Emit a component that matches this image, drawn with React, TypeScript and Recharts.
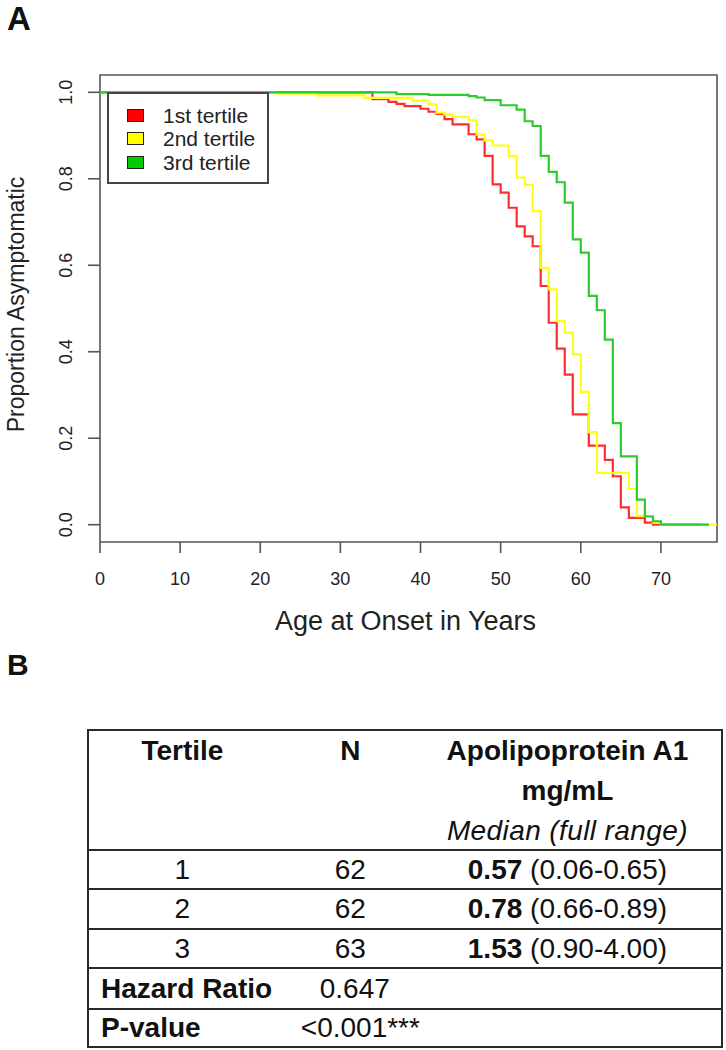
import React from 'react';
import { LineChart, Line, XAxis, YAxis, ReferenceArea, Legend } from 'recharts';

const FONT = '"Liberation Sans", Arial, Helvetica, sans-serif';

// ---- Panel A data: Kaplan–Meier steps (age at onset, proportion asymptomatic)
const tertile1Ages = [0, 34, 36, 37, 38, 40, 41, 42, 43, 44, 46, 47, 48, 49, 50, 51, 52, 53, 54, 55, 56, 57, 58, 59, 61, 63, 64, 65, 66, 68, 69, 75];
const tertile1Surv = [1, 0.984, 0.978, 0.973, 0.968, 0.962, 0.955, 0.95, 0.938, 0.926, 0.903, 0.891, 0.853, 0.787, 0.768, 0.733, 0.69, 0.667, 0.644, 0.552, 0.467, 0.407, 0.347, 0.255, 0.183, 0.15, 0.112, 0.04, 0.016, 0.005, 0, 0];

const tertile2Ages = [0, 22, 27, 33, 39, 41, 42, 43, 44, 46, 47, 48, 49, 51, 52, 53, 54, 55, 56, 57, 58, 59, 60, 61, 62, 66, 67, 69, 70, 77];
const tertile2Surv = [1, 0.997, 0.993, 0.987, 0.98, 0.972, 0.953, 0.949, 0.943, 0.935, 0.902, 0.889, 0.877, 0.853, 0.803, 0.786, 0.725, 0.594, 0.544, 0.471, 0.444, 0.394, 0.307, 0.214, 0.12, 0.083, 0.02, 0.005, 0, 0];

const tertile3Ages = [0, 37, 41, 46, 47, 48, 50, 52, 53, 54, 55, 56, 57, 58, 59, 60, 61, 62, 63, 64, 65, 67, 68, 69, 70, 76];
const tertile3Surv = [1, 0.996, 0.994, 0.991, 0.988, 0.982, 0.97, 0.96, 0.933, 0.922, 0.853, 0.816, 0.792, 0.745, 0.66, 0.629, 0.529, 0.496, 0.428, 0.235, 0.158, 0.058, 0.019, 0.008, 0, 0];

const seriesNames = ['1st tertile', '2nd tertile', '3rd tertile'];
const lineColors = ['#ff2e2e', '#ffff10', '#2ccc2c'];
const legendFills = ['#ff0000', '#ffff00', '#00cc00'];

const xTicks = [0, 10, 20, 30, 40, 50, 60, 70];
const yTicks = [0, 0.2, 0.4, 0.6, 0.8, 1.0];
const xDomain = [0, 77];
const yDomain = [-0.04, 1.04];
const xAxisTitle = 'Age at Onset in Years';
const yAxisTitle = 'Proportion Asymptomatic';
const panelLabels = ['A', 'B'];

// ---- Panel B table data
const tableHeadTertile = 'Tertile';
const tableHeadN = 'N';
const tableHeadApo = ['Apolipoprotein A1', 'mg/mL'];
const tableHeadSub = 'Median (full range)';
const tableTertiles = ['1', '2', '3'];
const tableN = ['62', '62', '63'];
const tableMedians = ['0.57', '0.78', '1.53'];
const tableRanges = ['(0.06-0.65)', '(0.66-0.89)', '(0.90-4.00)'];
const hazardLabel = 'Hazard Ratio';
const hazardValue = '0.647';
const pLabel = 'P-value';
const pValueText = '<0.001***';

const toPoints = (ages: number[], surv: number[]) => ages.map((a, i) => ({ age: a, s: surv[i] }));
const seriesData = [
  toPoints(tertile1Ages, tertile1Surv),
  toPoints(tertile2Ages, tertile2Surv),
  toPoints(tertile3Ages, tertile3Surv),
];

const AXIS_COLOR = '#555';
const TEXT_COLOR = '#222';

const renderXTick = (props: any) => {
  const { x, y, payload } = props;
  return (
    <text x={x} y={y} dy="0.71em" textAnchor="middle" fontSize={18} fontFamily={FONT} fill={TEXT_COLOR}>
      {payload.value}
    </text>
  );
};

const renderYTick = (props: any) => {
  const { x, y, payload } = props;
  return (
    <text x={x} y={y} transform={`rotate(-90 ${x} ${y})`} textAnchor="middle" fontSize={18} fontFamily={FONT} fill={TEXT_COLOR}>
      {Number(payload.value).toFixed(1)}
    </text>
  );
};

const renderXLabel = (props: any) => {
  const vb = props.viewBox || { x: 100, y: 542, width: 617, height: 60 };
  return (
    <text x={vb.x + vb.width / 2 - 3} y={vb.y + 88} textAnchor="middle" fontSize={27} fontFamily={FONT} fill={TEXT_COLOR}>
      {xAxisTitle}
    </text>
  );
};

const renderYLabel = (props: any) => {
  const vb = props.viewBox || { x: 40, y: 75, width: 60, height: 467 };
  const cx = 24;
  const cy = vb.y + vb.height / 2 - 4;
  return (
    <text x={cx} y={cy} transform={`rotate(-90 ${cx} ${cy})`} textAnchor="middle" fontSize={23} fontFamily={FONT} fill={TEXT_COLOR}>
      {yAxisTitle}
    </text>
  );
};

const renderLegend = () => (
  <div
    style={{
      width: 162,
      height: 92,
      boxSizing: 'border-box',
      border: '2px solid #444',
      background: '#fff',
      position: 'relative',
      fontFamily: FONT,
    }}
  >
    {seriesNames.map((n, i) => (
      <div
        key={n}
        style={{ position: 'absolute', left: 18, top: 13 + i * 23.3, height: 17, display: 'flex', alignItems: 'center' }}
      >
        <span
          style={{
            display: 'inline-block',
            width: 17,
            height: 13,
            background: legendFills[i],
            border: '1px solid #222',
            boxSizing: 'border-box',
          }}
        />
        <span style={{ marginLeft: 19, fontSize: 21, color: TEXT_COLOR, lineHeight: '17px', whiteSpace: 'nowrap' }}>{n}</span>
      </div>
    ))}
  </div>
);

const cellBase: React.CSSProperties = {
  boxSizing: 'border-box',
  display: 'flex',
  alignItems: 'center',
};

const COLS = [188, 150, 298];

const TableRow = ({ h, c1, c2, c3, c1Left, c2Pad }: any) => (
  <div style={{ display: 'flex', height: h, borderTop: '2px solid #2a2a2a', boxSizing: 'border-box' }}>
    <div style={{ ...cellBase, width: COLS[0], justifyContent: c1Left ? 'flex-start' : 'center', paddingLeft: c1Left ? 12 : 0 }}>{c1}</div>
    <div style={{ ...cellBase, width: COLS[1], justifyContent: c2Pad != null ? 'flex-start' : 'center', paddingLeft: c2Pad || 0 }}>{c2}</div>
    <div style={{ ...cellBase, width: COLS[2], justifyContent: 'center', paddingRight: 11 }}>{c3}</div>
  </div>
);

export default function App() {
  return (
    <div style={{ position: 'absolute', left: 0, top: 0, width: 726, height: 1050, background: '#fff', overflow: 'hidden' }}>
      {/* Panel label A */}
      <div style={{ position: 'absolute', left: 7, top: 0, fontFamily: FONT, fontWeight: 700, fontSize: 33, lineHeight: 'normal', color: '#111' }}>{panelLabels[0]}</div>

      <div style={{ position: 'absolute', left: 0, top: 0 }}>
        <LineChart width={726} height={650} margin={{ top: 75, right: 9, bottom: 48, left: 40 }}>
          <XAxis
            type="number"
            dataKey="age"
            domain={xDomain}
            ticks={xTicks}
            allowDataOverflow
            interval={0}
            height={60}
            tickSize={11}
            tickMargin={19}
            axisLine={false}
            tickLine={{ stroke: AXIS_COLOR, strokeWidth: 1.6 }}
            tick={renderXTick}
            label={renderXLabel}
          />
          <YAxis
            type="number"
            domain={yDomain}
            ticks={yTicks}
            allowDataOverflow
            interval={0}
            width={60}
            tickSize={12}
            tickMargin={16}
            axisLine={false}
            tickLine={{ stroke: AXIS_COLOR, strokeWidth: 1.6 }}
            tick={renderYTick}
            label={renderYLabel}
          />
          <ReferenceArea
            x1={xDomain[0]}
            x2={xDomain[1]}
            y1={yDomain[0]}
            y2={yDomain[1]}
            fill="none"
            fillOpacity={0}
            stroke={AXIS_COLOR}
            strokeWidth={1.6}
            ifOverflow="visible"
          />
          {seriesData.map((d, i) => (
            <Line
              key={seriesNames[i]}
              name={seriesNames[i]}
              data={d}
              dataKey="s"
              type="stepAfter"
              stroke={lineColors[i]}
              strokeWidth={2.2}
              dot={false}
              activeDot={false}
              isAnimationActive={false}
            />
          ))}
          <Legend
            layout="vertical"
            align="center"
            verticalAlign="middle"
            content={renderLegend}
            wrapperStyle={{ left: 107, top: 92, width: 162, height: 92 }}
          />
        </LineChart>
      </div>

      {/* Panel label B */}
      <div style={{ position: 'absolute', left: 7, top: 648, fontFamily: FONT, fontWeight: 700, fontSize: 30, lineHeight: 'normal', color: '#111' }}>{panelLabels[1]}</div>

      {/* Panel B table */}
      <div
        style={{
          position: 'absolute',
          left: 87,
          top: 729,
          width: 636,
          boxSizing: 'border-box',
          borderLeft: '2px solid #2a2a2a',
          borderRight: '2px solid #2a2a2a',
          borderBottom: '2px solid #2a2a2a',
          fontFamily: FONT,
          fontSize: 28,
          color: '#111',
        }}
      >
        <div style={{ display: 'flex', height: 120, borderTop: '2px solid #2a2a2a', boxSizing: 'border-box', lineHeight: '40px' }}>
          <div style={{ width: COLS[0], textAlign: 'center', fontWeight: 700 }}>{tableHeadTertile}</div>
          <div style={{ width: COLS[1], textAlign: 'center', fontWeight: 700 }}>{tableHeadN}</div>
          <div style={{ width: COLS[2], textAlign: 'center', paddingRight: 11, boxSizing: 'border-box' }}>
            <div style={{ fontWeight: 700 }}>{tableHeadApo[0]}</div>
            <div style={{ fontWeight: 700 }}>{tableHeadApo[1]}</div>
            <div style={{ fontStyle: 'italic', letterSpacing: 0.4 }}>{tableHeadSub}</div>
          </div>
        </div>
        {tableTertiles.map((t, i) => (
          <TableRow
            key={t}
            h={i === 1 ? 40 : 39}
            c1={t}
            c2={tableN[i]}
            c3={
              <span>
                <b>{tableMedians[i]}</b> {tableRanges[i]}
              </span>
            }
          />
        ))}
        <TableRow h={41} c1={<b>{hazardLabel}</b>} c1Left c2={hazardValue} c2Pad={44} c3={null} />
        <TableRow h={38} c1={<b>{pLabel}</b>} c1Left c2={pValueText} c2Pad={25} c3={null} />
      </div>
    </div>
  );
}
